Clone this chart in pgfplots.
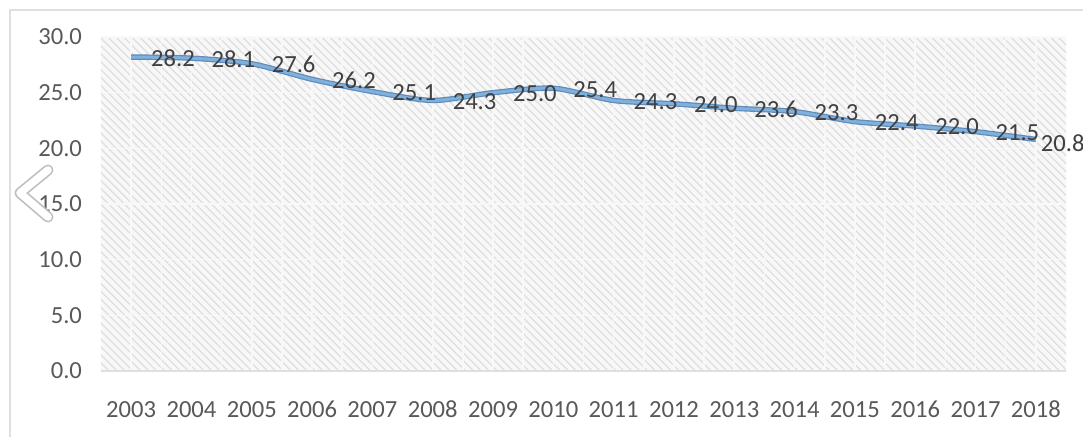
\documentclass[border=0pt]{standalone}
\usepackage{pgfplots}
\pgfplotsset{compat=1.18}
\usepackage{fontspec}
\setmainfont{Carlito}
\usetikzlibrary{patterns.meta}
\definecolor{tickgray}{HTML}{595959}
\definecolor{labgray}{HTML}{404040}
\definecolor{lineblue}{HTML}{80B0DC}
\definecolor{lineedge}{HTML}{5F8BBA}
\definecolor{gridc}{HTML}{F8F8F8}
\definecolor{hatchbg}{HTML}{F8F8F8}
\definecolor{hatchln}{HTML}{E0E0E0}
\begin{document}
\begin{tikzpicture}
\begin{axis}[
  scale only axis,
  width=482.5pt, height=167pt,
  xmin=-0.5, xmax=15.5,
  ymin=0, ymax=30,
  xtick={0,...,15},
  xticklabels={2003,2004,2005,2006,2007,2008,2009,2010,2011,2012,2013,2014,2015,2016,2017,2018},
  minor x tick num=1,
  ytick={0,5,...,30},
  major tick length=0pt, minor tick length=0pt,
  axis line style={draw=none},
  axis background/.style={preaction={fill=hatchbg}, pattern={Lines[angle=-45,distance=2.8pt,line width=0.7pt]}, pattern color=hatchln},
  grid=both,
  major grid style={gridc, line width=0.8pt},
  minor grid style={gridc, line width=0.8pt},
  /pgf/number format/assume math mode=true,
  yticklabel={\pgfmathprintnumber[fixed,fixed zerofill,precision=1]{\tick}},
  ticklabel style={font=\fontsize{12.3}{14}\selectfont, text=tickgray},
  yticklabel style={xshift=-6pt},
  xticklabel style={yshift=-11.5pt},
  clip=false,
]
\addplot[lineedge, line width=2.7pt, smooth, tension=0.45] coordinates {
(0,28.2) (1,28.1) (2,27.6) (3,26.2) (4,25.1) (5,24.3) (6,25.0) (7,25.4)
(8,24.3) (9,24.0) (10,23.6) (11,23.3) (12,22.4) (13,22.0) (14,21.5) (15,20.8)};
\addplot[lineblue, line width=1.5pt, smooth, tension=0.45] coordinates {
(0,28.2) (1,28.1) (2,27.6) (3,26.2) (4,25.1) (5,24.3) (6,25.0) (7,25.4)
(8,24.3) (9,24.0) (10,23.6) (11,23.3) (12,22.4) (13,22.0) (14,21.5) (15,20.8)};
\addplot[draw=none, mark=none,
  nodes near coords={\pgfmathprintnumber[fixed,fixed zerofill,precision=1]{\pgfplotspointmeta}},
  point meta=explicit,
  every node near coord/.append style={anchor=west, xshift=6.5pt, yshift=-0.5pt, font=\fontsize{12.3}{14}\selectfont, text=labgray}]
coordinates {
(0,28.2) [28.2] (1,28.1) [28.1] (2,27.6) [27.6] (3,26.2) [26.2] (4,25.1) [25.1] (5,24.3) [24.3] (6,25.0) [25.0] (7,25.4) [25.4]
(8,24.3) [24.3] (9,24.0) [24.0] (10,23.6) [23.6] (11,23.3) [23.3] (12,22.4) [22.4] (13,22.0) [22.0] (14,21.5) [21.5]};
\addplot[draw=none, mark=none,
  nodes near coords={\pgfmathprintnumber[fixed,fixed zerofill,precision=1]{\pgfplotspointmeta}},
  point meta=explicit,
  every node near coord/.append style={anchor=west, xshift=-1pt, yshift=-2pt, font=\fontsize{12.3}{14}\selectfont, text=labgray}]
coordinates {(15,20.8) [20.8]};
\draw[gray!25, line width=0.8pt] (axis cs:-0.5,0) -- (axis cs:15.5,0);
\end{axis}
% outer chart border
\draw[gray!25, line width=0.6pt] (-45.5pt,-40pt) -- (-45.5pt,180.5pt) -- (500pt,180.5pt);
% carousel chevron overlay
\draw[gray!50, line width=5.5pt, line cap=round, line join=round] (-26.5pt,100.5pt) -- (-40.5pt,89pt) -- (-26.5pt,77pt);
\draw[white, line width=3.8pt, line cap=round, line join=round] (-26.5pt,100.5pt) -- (-40.5pt,89pt) -- (-26.5pt,77pt);
\pgfresetboundingbox
\useasboundingbox (-50.5pt,-32.5pt) rectangle (491pt,185.5pt);
\end{tikzpicture}
\end{document}
